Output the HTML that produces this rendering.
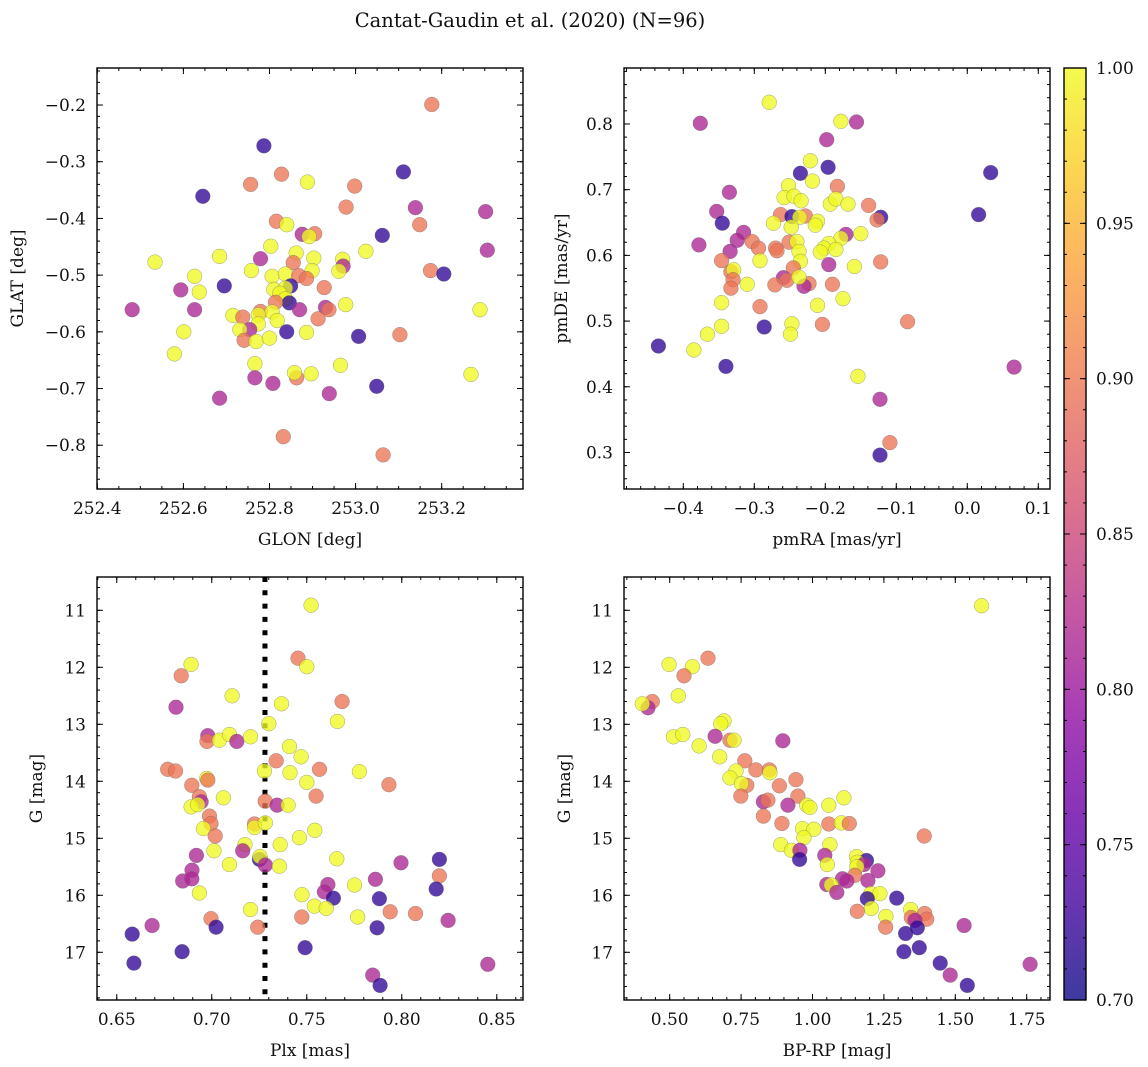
<!DOCTYPE html>
<html><head><meta charset="utf-8">
<style>
html,body{margin:0;padding:0;background:#fff;}
svg{display:block;font-family:"DejaVu Serif","Liberation Serif",serif;}
</style></head>
<body>
<svg id="fig" width="1148" height="1067" viewBox="0 0 1148 1067" xmlns="http://www.w3.org/2000/svg">
<defs>
<linearGradient id="plasmaGrad" x1="0" y1="1" x2="0" y2="0">
<stop offset="0" stop-color="#0d0887"/><stop offset="0.1" stop-color="#41049d"/><stop offset="0.2" stop-color="#6a00a8"/><stop offset="0.3" stop-color="#8f0da4"/><stop offset="0.4" stop-color="#b12a90"/><stop offset="0.5" stop-color="#cc4778"/><stop offset="0.6" stop-color="#e16462"/><stop offset="0.7" stop-color="#f2844b"/><stop offset="0.8" stop-color="#fca636"/><stop offset="0.9" stop-color="#fcce25"/><stop offset="1" stop-color="#f0f921"/>
</linearGradient>
</defs>
<text x="530" y="27" text-anchor="middle" font-size="19.5" fill="#111">Cantat-Gaudin et al. (2020) (N=96)</text>
</svg>
<script>
// ---- data (B, P, S, Y probability levels) ----
const B=0.72,P=0.815,S=0.895,Y=1.0;
const glon=[253.177,252.787,253.111,252.828,252.756,252.888,252.998,252.645,252.978,253.139,253.302,252.816,252.840,253.149,252.876,252.905,252.892,253.062,252.803,253.306,253.024,252.684,252.862,252.779,252.903,252.970,252.971,252.534,252.855,252.758,252.961,252.899,253.174,253.205,252.626,252.806,252.837,252.868,252.886,252.849,252.695,252.927,252.594,252.637,252.810,252.837,252.824,252.837,252.846,252.977,252.814,252.481,252.626,252.870,252.930,252.938,253.289,252.779,252.806,252.715,252.738,252.774,252.818,252.913,252.774,252.754,252.731,252.601,252.840,252.886,253.007,253.103,252.741,252.769,252.800,252.579,252.766,252.965,253.268,252.863,252.858,252.897,252.766,252.808,253.049,252.939,252.684,252.832,253.064];
const glat=[-0.199,-0.272,-0.318,-0.322,-0.340,-0.336,-0.343,-0.361,-0.380,-0.381,-0.388,-0.405,-0.411,-0.411,-0.428,-0.427,-0.432,-0.430,-0.449,-0.456,-0.458,-0.467,-0.461,-0.471,-0.470,-0.472,-0.484,-0.477,-0.478,-0.492,-0.493,-0.492,-0.492,-0.498,-0.502,-0.502,-0.498,-0.501,-0.506,-0.519,-0.519,-0.522,-0.526,-0.530,-0.525,-0.523,-0.532,-0.542,-0.549,-0.552,-0.548,-0.561,-0.561,-0.561,-0.557,-0.561,-0.561,-0.564,-0.565,-0.571,-0.574,-0.570,-0.580,-0.577,-0.586,-0.596,-0.596,-0.600,-0.600,-0.601,-0.608,-0.605,-0.615,-0.617,-0.611,-0.639,-0.656,-0.659,-0.675,-0.681,-0.672,-0.674,-0.681,-0.691,-0.696,-0.709,-0.717,-0.785,-0.817];
const probPos=[S,B,B,S,S,Y,S,B,S,P,P,S,Y,S,P,S,Y,B,Y,P,Y,Y,Y,P,Y,Y,P,Y,S,Y,Y,Y,S,B,Y,Y,Y,S,S,B,B,S,P,Y,Y,Y,Y,Y,B,Y,S,P,P,P,P,S,Y,S,Y,Y,S,Y,Y,S,Y,P,Y,Y,B,Y,B,S,S,Y,Y,Y,Y,Y,Y,S,Y,Y,P,P,B,P,P,S,S];

const pmra=[-0.279,-0.376,-0.178,-0.156,-0.198,-0.221,-0.196,-0.235,0.033,-0.218,-0.183,-0.252,-0.258,-0.244,-0.234,-0.335,-0.193,-0.185,-0.168,-0.139,0.016,-0.353,-0.122,-0.127,-0.263,-0.247,-0.228,-0.236,-0.211,-0.214,-0.273,-0.345,-0.248,-0.150,-0.171,-0.178,-0.315,-0.324,-0.303,-0.378,-0.294,-0.270,-0.251,-0.240,-0.195,-0.202,-0.207,-0.185,-0.268,-0.334,-0.237,-0.346,-0.292,-0.235,-0.195,-0.122,-0.159,-0.333,-0.329,-0.245,-0.330,-0.310,-0.259,-0.254,-0.271,-0.223,-0.230,-0.237,-0.190,-0.333,-0.175,-0.346,-0.211,-0.292,-0.084,-0.247,-0.204,-0.286,-0.346,-0.249,-0.366,-0.435,-0.385,-0.340,0.066,-0.154,-0.123,-0.109,-0.123];
const pmde=[0.833,0.801,0.804,0.803,0.776,0.744,0.734,0.725,0.726,0.713,0.705,0.706,0.688,0.690,0.683,0.696,0.678,0.686,0.678,0.676,0.662,0.667,0.658,0.654,0.662,0.659,0.660,0.658,0.652,0.646,0.649,0.649,0.643,0.633,0.632,0.626,0.635,0.623,0.621,0.616,0.611,0.611,0.620,0.621,0.618,0.611,0.605,0.609,0.607,0.606,0.606,0.592,0.592,0.591,0.586,0.590,0.583,0.575,0.578,0.581,0.563,0.556,0.566,0.562,0.555,0.557,0.553,0.567,0.556,0.550,0.534,0.528,0.524,0.522,0.499,0.496,0.495,0.491,0.492,0.480,0.480,0.462,0.456,0.431,0.430,0.416,0.381,0.315,0.296];
const probPm=[Y,P,Y,P,P,Y,B,B,B,Y,S,Y,Y,Y,Y,P,Y,Y,Y,S,B,P,B,S,S,B,S,Y,Y,Y,Y,B,Y,Y,P,Y,P,P,S,P,S,S,S,Y,Y,Y,Y,Y,S,P,Y,S,Y,Y,P,S,Y,S,Y,S,S,Y,P,S,S,S,P,Y,S,S,Y,Y,Y,S,S,Y,S,B,Y,Y,Y,B,Y,B,P,Y,P,S,B];

const plx=[0.7523,0.7454,0.75,0.6891,0.6839,0.7107,0.6812,0.7367,0.7686,0.7661,0.73,0.6979,0.6975,0.704,0.7093,0.7132,0.7204,0.7409,0.747,0.7339,0.7277,0.7412,0.7567,0.7777,0.6768,0.6809,0.6974,0.6979,0.75,0.7932,0.6895,0.6935,0.6944,0.7549,0.7061,0.6891,0.6926,0.7281,0.7344,0.7402,0.6988,0.6996,0.6956,0.7225,0.7225,0.7282,0.7018,0.7542,0.7461,0.736,0.7175,0.7163,0.7012,0.6919,0.7658,0.7251,0.7254,0.7282,0.7356,0.7093,0.8198,0.7996,0.8198,0.6896,0.6847,0.6895,0.7861,0.7611,0.7751,0.8181,0.7593,0.6935,0.7475,0.764,0.7882,0.754,0.7602,0.7204,0.7939,0.8072,0.7768,0.7474,0.8244,0.6996,0.7023,0.7242,0.6686,0.787,0.6581,0.6844,0.7491,0.659,0.8453,0.7847,0.7886];
const gPlx=[10.91,11.84,11.99,11.95,12.15,12.50,12.70,12.64,12.60,12.95,12.99,13.20,13.30,13.28,13.18,13.30,13.22,13.39,13.57,13.64,13.82,13.85,13.79,13.83,13.79,13.82,13.95,13.98,14.02,14.06,14.07,14.27,14.36,14.26,14.29,14.45,14.41,14.35,14.42,14.42,14.61,14.74,14.83,14.75,14.81,14.73,14.96,14.86,14.99,15.11,15.11,15.22,15.22,15.30,15.36,15.37,15.32,15.47,15.49,15.46,15.37,15.43,15.66,15.56,15.75,15.71,15.72,15.81,15.82,15.89,15.94,15.96,15.99,16.05,16.06,16.19,16.23,16.25,16.29,16.32,16.38,16.38,16.44,16.41,16.56,16.56,16.53,16.57,16.68,16.99,16.92,17.19,17.21,17.40,17.58];
const probPlx=[Y,S,Y,Y,S,Y,P,Y,S,Y,Y,P,S,Y,Y,P,Y,Y,Y,S,Y,Y,S,Y,S,S,Y,S,Y,S,S,S,P,S,Y,Y,Y,S,P,Y,S,S,Y,S,Y,Y,S,Y,Y,Y,Y,P,Y,P,Y,B,Y,P,Y,Y,B,P,S,P,P,P,P,P,Y,B,P,Y,Y,B,B,Y,Y,Y,S,S,Y,S,P,S,B,S,P,B,B,B,B,B,P,P,B];
const plxCut=0.728;

const bprp=[1.592,0.498,0.579,0.550,0.634,0.530,0.439,0.424,0.404,0.690,0.679,0.513,0.546,0.659,0.896,0.603,0.711,0.725,0.675,0.763,0.802,0.849,0.851,0.732,0.711,0.942,0.770,0.751,0.884,0.749,0.949,1.110,0.828,0.844,0.914,0.980,0.991,1.057,0.828,0.893,1.057,1.101,1.129,0.965,1.005,0.970,1.391,0.889,0.926,0.956,0.955,1.061,1.043,1.052,1.154,1.189,1.157,1.180,1.229,1.155,1.148,1.105,1.120,1.194,1.050,1.066,1.085,1.204,1.236,1.192,1.295,1.206,1.157,1.344,1.393,1.346,1.400,1.359,1.257,1.256,1.531,1.326,1.367,1.374,1.320,1.447,1.762,1.482,1.542];
const gCmd=[10.92,11.95,11.99,12.15,11.84,12.50,12.60,12.71,12.64,12.94,12.99,13.22,13.18,13.21,13.29,13.38,13.28,13.28,13.57,13.64,13.80,13.80,13.85,13.82,13.94,13.97,14.07,14.04,14.08,14.26,14.26,14.29,14.36,14.33,14.42,14.42,14.46,14.42,14.61,14.74,14.75,14.73,14.74,14.83,14.84,14.99,14.96,15.11,15.21,15.21,15.37,15.11,15.30,15.46,15.32,15.39,15.42,15.46,15.57,15.50,15.65,15.71,15.75,15.74,15.81,15.82,15.95,15.97,15.97,16.06,16.05,16.23,16.28,16.25,16.32,16.39,16.42,16.44,16.37,16.56,16.53,16.67,16.57,16.92,16.99,17.19,17.21,17.40,17.58];
const probCmd=[Y,Y,Y,S,S,Y,S,P,Y,Y,Y,Y,Y,P,P,Y,S,Y,Y,S,S,S,Y,Y,Y,S,S,Y,S,S,S,Y,P,S,P,Y,Y,Y,S,S,S,Y,S,Y,Y,Y,S,Y,Y,P,B,Y,P,Y,Y,B,Y,P,P,Y,S,P,P,P,P,Y,P,Y,Y,B,B,Y,S,Y,S,S,S,P,Y,S,P,B,B,B,B,B,P,P,B];

const cbTicks=[0.70,0.75,0.80,0.85,0.90,0.95,1.00];
const vmin=0.7,vmax=1.0;

// ---- helpers ----
const NS="http://www.w3.org/2000/svg";
const svg=document.getElementById('fig');
function el(tag,attrs,parent){const e=document.createElementNS(NS,tag);for(const k in attrs)e.setAttribute(k,attrs[k]);(parent||svg).appendChild(e);return e;}
const stops=[[13,8,135],[65,4,157],[106,0,168],[143,13,164],[177,42,144],[204,71,120],[225,100,98],[242,132,75],[252,166,54],[252,206,37],[240,249,33]];
function plasma(v){let t=Math.max(0,Math.min(1,(v-vmin)/(vmax-vmin)))*10;let i=Math.min(9,Math.floor(t));let f=t-i;const a=stops[i],b=stops[i+1];return 'rgb('+[0,1,2].map(k=>Math.round(a[k]+(b[k]-a[k])*f)).join(',')+')';}
function fmt(v,d){const s=Math.abs(v).toFixed(d);return (v<-1e-9?'\u2212':'')+s;}
const FS=17;

function panel(cfg){
  const g=el('g',{});
  
  
  const {x0,x1,y0,y1,xd,yd,inv}=cfg;
  const sx=v=>x0+(v-xd[0])/(xd[1]-xd[0])*(x1-x0);
  const sy=inv?(v=>y0+(v-yd[0])/(yd[1]-yd[0])*(y1-y0)):(v=>y1-(v-yd[0])/(yd[1]-yd[0])*(y1-y0));
  const clip=el('clipPath',{id:cfg.name+'-clip'},g);
  el('rect',{x:x0,y:y0,width:x1-x0,height:y1-y0},clip);
  const pts=el('g',{'clip-path':'url(#'+cfg.name+'-clip)'},g);
  
  
  if(cfg.vline!==undefined){
    const ln=el('line',{x1:sx(cfg.vline),x2:sx(cfg.vline),y1:y0,y2:y1,stroke:'#000','stroke-width':5,'stroke-dasharray':'5,8.3'},pts);
    
    
  }
  for(let i=0;i<cfg.xs.length;i++){
    const c=el('circle',{cx:sx(cfg.xs[i]).toFixed(1),cy:sy(cfg.ys[i]).toFixed(1),r:7.4,fill:plasma(cfg.cs[i]),'fill-opacity':0.78,stroke:'#666','stroke-opacity':0.6,'stroke-width':0.5},pts);
    
    
  }
  const tg=el('g',{stroke:'#000','stroke-width':1},g);
  function range(a,b,s){const r=[];const n0=Math.ceil(a/s-1e-6),n1=Math.floor(b/s+1e-6);for(let n=n0;n<=n1;n++)r.push(+(n*s).toFixed(6));return r;}
  range(xd[0],xd[1],cfg.xminor).forEach(v=>{const x=sx(v);el('line',{x1:x,x2:x,y1:y1,y2:y1-3},tg);el('line',{x1:x,x2:x,y1:y0,y2:y0+3},tg);});
  range(Math.min(yd[0],yd[1]),Math.max(yd[0],yd[1]),cfg.yminor).forEach(v=>{const y=sy(v);el('line',{x1:x0,x2:x0+3,y1:y,y2:y},tg);el('line',{x1:x1,x2:x1-3,y1:y,y2:y},tg);});
  cfg.xticks.forEach(v=>{const x=sx(v);el('line',{x1:x,x2:x,y1:y1,y2:y1-6},tg);el('line',{x1:x,x2:x,y1:y0,y2:y0+6},tg);
    const t=el('text',{x:x,y:y1+25,'text-anchor':'middle','font-size':FS,fill:'#111'},g);t.textContent=fmt(v,cfg.xdec);
    });
  cfg.yticks.forEach(v=>{const y=sy(v);el('line',{x1:x0,x2:x0+6,y1:y,y2:y},tg);el('line',{x1:x1,x2:x1-6,y1:y,y2:y},tg);
    const t=el('text',{x:x0-11,y:y+6,'text-anchor':'end','font-size':FS,fill:'#111'},g);t.textContent=fmt(v,cfg.ydec);
    });
  const fr=el('rect',{x:x0,y:y0,width:x1-x0,height:y1-y0,fill:'none',stroke:'#000','stroke-width':1.4},g);
  
  const xl=el('text',{x:(x0+x1)/2,y:y1+56,'text-anchor':'middle','font-size':FS,fill:'#111'},g);xl.textContent=cfg.xlabel;
  
  const yl=el('text',{x:cfg.ylx,y:(y0+y1)/2,'text-anchor':'middle','font-size':FS,fill:'#111',transform:'rotate(-90 '+cfg.ylx+' '+((y0+y1)/2)+')'},g);yl.textContent=cfg.ylabel;
  
}

panel({name:'glon-glat-panel',x0:97,x1:523,y0:68,y1:489,xd:[252.3993,253.3889],yd:[-0.8772,-0.1347],xs:glon,ys:glat,cs:probPos,
  xticks:[252.4,252.6,252.8,253.0,253.2],yticks:[-0.8,-0.7,-0.6,-0.5,-0.4,-0.3,-0.2],xminor:0.05,yminor:0.02,xdec:1,ydec:1,xlabel:'GLON [deg]',ylabel:'GLAT [deg]',ylx:23});
panel({name:'proper-motion-panel',x0:624,x1:1050,y0:68,y1:489,xd:[-0.4835,0.1165],yd:[0.2444,0.8852],xs:pmra,ys:pmde,cs:probPm,
  xticks:[-0.4,-0.3,-0.2,-0.1,0.0,0.1],yticks:[0.3,0.4,0.5,0.6,0.7,0.8],xminor:0.02,yminor:0.02,xdec:1,ydec:1,xlabel:'pmRA [mas/yr]',ylabel:'pmDE [mas/yr]',ylx:567});
panel({name:'parallax-mag-panel',x0:97,x1:523,y0:577,y1:1000,xd:[0.6396,0.8638],yd:[10.416,17.837],inv:true,xs:plx,ys:gPlx,cs:probPlx,vline:plxCut,
  xticks:[0.65,0.70,0.75,0.80,0.85],yticks:[11,12,13,14,15,16,17],xminor:0.01,yminor:0.2,xdec:2,ydec:0,xlabel:'Plx [mas]',ylabel:'G [mag]',ylx:42});
panel({name:'color-magnitude-panel',x0:624,x1:1050,y0:577,y1:1000,xd:[0.340,1.8316],yd:[10.416,17.837],inv:true,xs:bprp,ys:gCmd,cs:probCmd,
  xticks:[0.50,0.75,1.00,1.25,1.50,1.75],yticks:[11,12,13,14,15,16,17],xminor:0.05,yminor:0.2,xdec:2,ydec:0,xlabel:'BP-RP [mag]',ylabel:'G [mag]',ylx:570});

(function(){
  const cx0=1064,cx1=1086,cy0=68,cy1=1000;
  const g=el('g',{});
  
  
  el('rect',{x:cx0,y:cy0,width:cx1-cx0,height:cy1-cy0,fill:'url(#plasmaGrad)','fill-opacity':0.8},g);
  const sy=v=>cy1-(v-vmin)/(vmax-vmin)*(cy1-cy0);
  for(let n=70;n<=100;n++){const y=sy(n/100);el('line',{x1:cx1,x2:cx1-3,y1:y,y2:y,stroke:'#000','stroke-width':1},g);el('line',{x1:cx0,x2:cx0+3,y1:y,y2:y,stroke:'#000','stroke-width':1},g);}
  cbTicks.forEach(v=>{const y=sy(v);el('line',{x1:cx1,x2:cx1-6,y1:y,y2:y,stroke:'#000','stroke-width':1},g);el('line',{x1:cx0,x2:cx0+6,y1:y,y2:y,stroke:'#000','stroke-width':1},g);
    const t=el('text',{x:cx1+10,y:y+6,'font-size':FS,fill:'#111'},g);t.textContent=v.toFixed(2);
    });
  el('rect',{x:cx0,y:cy0,width:cx1-cx0,height:cy1-cy0,fill:'none',stroke:'#000','stroke-width':1.4},g);
})();
</script>
</body></html>
